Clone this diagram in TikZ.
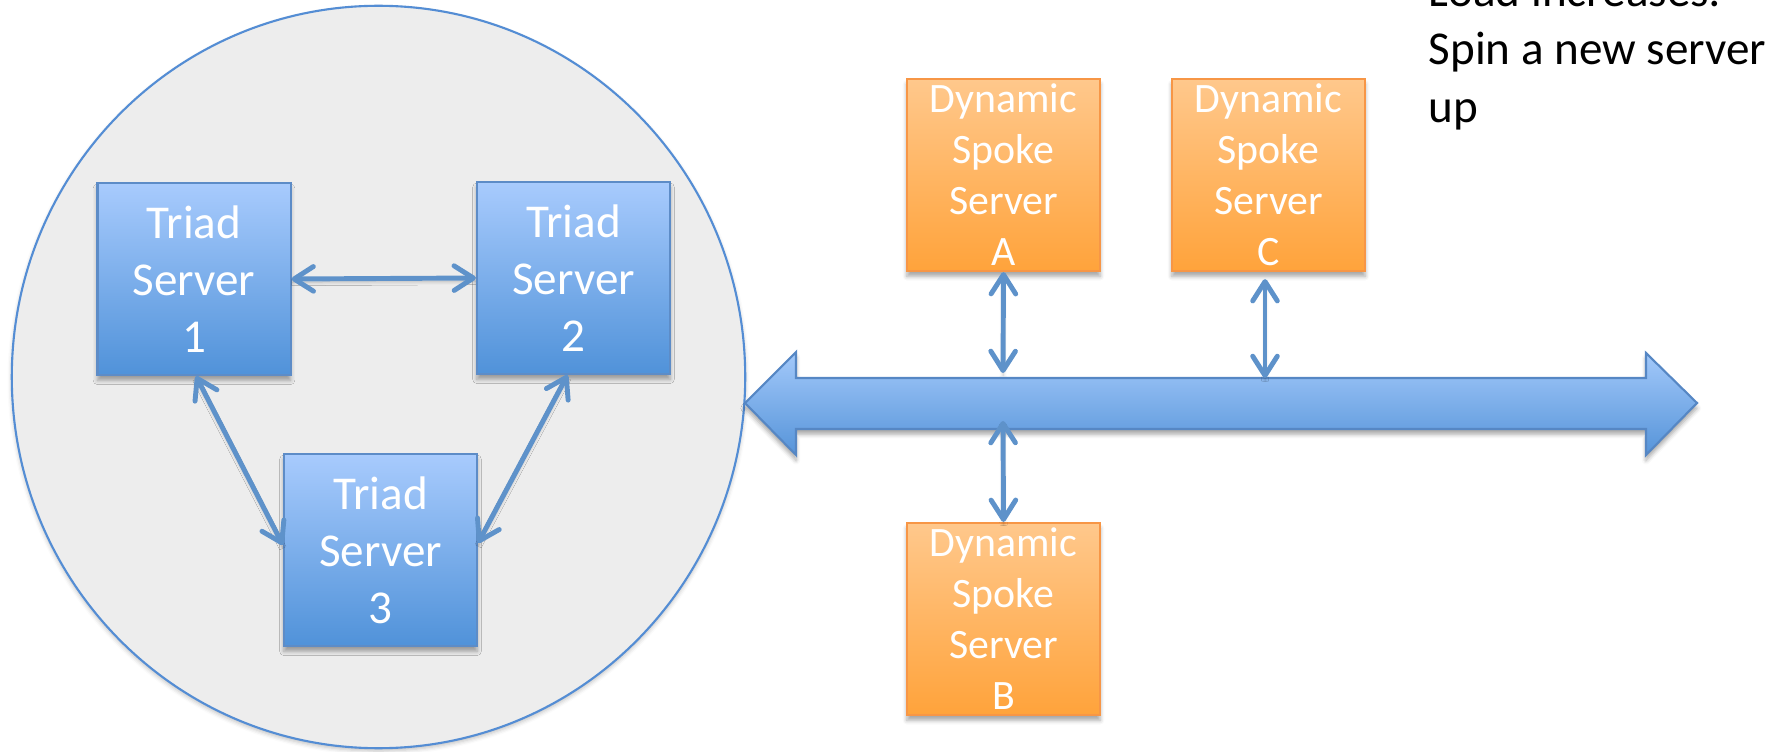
\documentclass[tikz,border=0pt]{standalone}
\usepackage{fontspec}
\setmainfont{Carlito}
\usetikzlibrary{arrows.meta,shadows.blur,shapes.geometric,calc}

\definecolor{triadTop}{RGB}{168,203,253}
\definecolor{triadBot}{RGB}{80,146,217}
\definecolor{triadLine}{RGB}{93,140,199}
\definecolor{spokeTop}{RGB}{255,200,140}
\definecolor{spokeBot}{RGB}{255,163,59}
\definecolor{spokeLine}{RGB}{247,150,70}
\definecolor{busTop}{RGB}{163,201,250}
\definecolor{busBot}{RGB}{86,148,217}
\definecolor{busLine}{RGB}{86,135,196}
\definecolor{linkCol}{RGB}{94,146,202}
\definecolor{clusterFill}{RGB}{237,237,237}
\definecolor{clusterLine}{RGB}{84,141,212}

\tikzset{
  softshadow/.style={blur shadow={shadow xshift=0pt, shadow yshift=-1.5pt,
      shadow blur radius=1.2pt, shadow opacity=35}},
  cluster/.style={ellipse, draw=clusterLine, line width=0.6pt, fill=clusterFill,
      inner sep=0pt, minimum width=7.33cm, minimum height=7.42cm,
      blur shadow={shadow xshift=0pt, shadow yshift=-0.8pt,
      shadow blur radius=1.2pt, shadow opacity=25}},
  triad/.style={rectangle, draw=triadLine, line width=0.6pt,
      top color=triadTop, bottom color=triadBot,
      minimum width=1.93cm, minimum height=1.92cm, inner sep=0pt,
      text=white, align=center, font=\fontsize{13.4}{16.2}\selectfont, softshadow},
  spoke/.style={rectangle, draw=spokeLine, line width=0.6pt,
      top color=spokeTop, bottom color=spokeBot,
      minimum width=1.93cm, minimum height=1.92cm, inner sep=0pt,
      text=white, align=center, font=\fontsize{11.9}{14.5}\selectfont, softshadow},
  bus/.style={draw=busLine, line width=0.6pt, top color=busTop, bottom color=busBot,
      line join=miter, softshadow},
  link/.style={draw=linkCol, line width=1.4pt, line cap=round,
      {Straight Barb[length=5.5pt,width=7pt,round]}-{Straight Barb[length=5.5pt,width=7pt,round]},
      blur shadow={shadow xshift=0pt, shadow yshift=-0.9pt,
      shadow blur radius=1pt, shadow opacity=25}},
  note/.style={anchor=base west, align=left, inner sep=0pt, text=black,
      font=\fontsize{13.4}{16.5}\selectfont}
}

\begin{document}
\begin{tikzpicture}[x=0.01cm, y=-0.01cm]
\useasboundingbox (0,0) rectangle (1788,752);
\clip (0,0) rectangle (1788,752);

% the triad cluster
\node[cluster] (cluster) at (378.5,377) {};

\node[triad] (t1) at (194,279) {Triad\\Server\\1};
\node[triad] (t2) at (573.5,278) {Triad\\Server\\2};
\node[triad] (t3) at (380.5,550) {Triad\\Server\\3};

\draw[link] (t1.east) -- (t2.west);
\draw[link] ($(t1.south)+(2,0)$) -- ($(t3.west)+(0,-5)$);
\draw[link] ($(t2.south)+(-6,0)$) -- ($(t3.east)+(0,-7)$);

% the shared bus, a double-headed block arrow
\path[bus] (745,403) -- (796,352) -- (796,378) -- (1646,378) -- (1646,353)
  -- (1697,403) -- (1646,455) -- (1646,429) -- (796,429) -- (796,455) -- cycle;
\coordinate (busA) at (1003,373);
\coordinate (busC) at (1265,378);
\coordinate (busB) at (1003,421);

% dynamic spoke servers
\node[spoke] (sa) at (1003.5,175) {Dynamic\\Spoke\\Server\\A};
\node[spoke] (sc) at (1268.5,175) {Dynamic\\Spoke\\Server\\C};
\node[spoke] (sb) at (1003.5,619) {Dynamic\\Spoke\\Server\\B};

\draw[link] (sa.south) -- (busA);
\draw[link] ($(sc.south)+(-3.5,7)$) -- (busC);
\draw[link] (busB) -- (sb.north);

% annotation (its first line runs off the top edge)
\node[note] (load) at (1428,123) {Load increases:\\Spin a new server\\up};
\end{tikzpicture}
\end{document}
